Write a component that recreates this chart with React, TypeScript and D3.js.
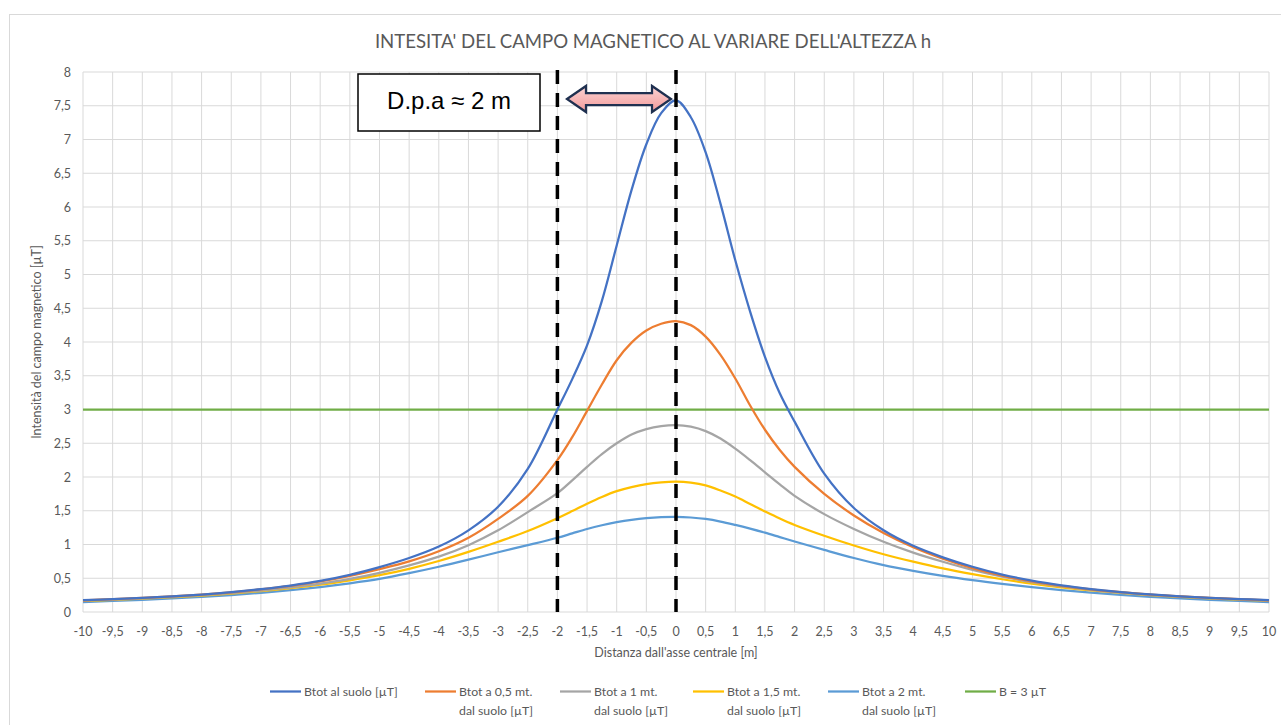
import React from "react";
import * as d3 from "d3";

// ---------- DATA ----------
const X = [-10, -9.5, -9, -8.5, -8, -7.5, -7, -6.5, -6, -5.5, -5, -4.5, -4, -3.5, -3, -2.5,
  -2, -1.75, -1.5, -1.25, -1, -0.75, -0.5, -0.25, 0, 0.25, 0.5, 0.75, 1, 1.25, 1.5, 1.75, 2,
  2.5, 3, 3.5, 4, 4.5, 5, 5.5, 6, 6.5, 7, 7.5, 8, 8.5, 9, 9.5, 10];

const bSuolo = [0.176, 0.191, 0.209, 0.231, 0.259, 0.294, 0.338, 0.392, 0.46, 0.55, 0.665, 0.8, 0.97, 1.21, 1.56, 2.12,
  3.0, 3.45, 3.95, 4.61, 5.43, 6.25, 6.93, 7.39, 7.58, 7.33, 6.81, 6.05, 5.21, 4.45, 3.78, 3.24, 2.82,
  2.05, 1.54, 1.21, 0.98, 0.81, 0.67, 0.555, 0.465, 0.395, 0.34, 0.295, 0.26, 0.232, 0.21, 0.192, 0.177];

const b05 = [0.174, 0.19, 0.208, 0.23, 0.258, 0.292, 0.334, 0.386, 0.452, 0.535, 0.635, 0.75, 0.9, 1.1, 1.38, 1.72,
  2.25, 2.59, 2.98, 3.37, 3.73, 3.99, 4.17, 4.27, 4.31, 4.25, 4.08, 3.81, 3.46, 3.06, 2.7, 2.4, 2.15,
  1.75, 1.43, 1.17, 0.96, 0.79, 0.65, 0.54, 0.455, 0.388, 0.335, 0.293, 0.259, 0.231, 0.209, 0.19, 0.174];

const b1 = [0.169, 0.185, 0.203, 0.225, 0.25, 0.28, 0.318, 0.364, 0.42, 0.49, 0.58, 0.69, 0.82, 0.99, 1.21, 1.48,
  1.76, 1.95, 2.15, 2.34, 2.5, 2.63, 2.71, 2.755, 2.77, 2.745, 2.68, 2.57, 2.42, 2.25, 2.07, 1.89, 1.72,
  1.45, 1.23, 1.04, 0.88, 0.745, 0.625, 0.525, 0.443, 0.379, 0.328, 0.287, 0.254, 0.228, 0.205, 0.186, 0.17];

const b15 = [0.165, 0.18, 0.198, 0.219, 0.244, 0.274, 0.31, 0.353, 0.405, 0.47, 0.545, 0.64, 0.755, 0.89, 1.04, 1.2,
  1.39, 1.495, 1.605, 1.705, 1.79, 1.85, 1.895, 1.92, 1.93, 1.915, 1.875, 1.8, 1.71, 1.6, 1.49, 1.385, 1.29,
  1.13, 0.985, 0.855, 0.745, 0.645, 0.56, 0.485, 0.42, 0.365, 0.32, 0.282, 0.25, 0.224, 0.202, 0.184, 0.167];

const b2 = [0.148, 0.163, 0.18, 0.2, 0.223, 0.251, 0.284, 0.323, 0.37, 0.425, 0.49, 0.575, 0.67, 0.775, 0.885, 0.99,
  1.1, 1.165, 1.23, 1.285, 1.33, 1.365, 1.39, 1.405, 1.41, 1.4, 1.378, 1.34, 1.29, 1.235, 1.175, 1.11, 1.045,
  0.92, 0.8, 0.695, 0.61, 0.535, 0.472, 0.418, 0.37, 0.325, 0.286, 0.252, 0.224, 0.2, 0.18, 0.163, 0.148];

const LIMIT = 3;
const DPA_LINES = [-2, 0];

const SERIES_NAMES = [
  ["Btot al suolo [µT]"],
  ["Btot a 0,5 mt.", "dal suolo [µT]"],
  ["Btot a 1 mt.", "dal suolo [µT]"],
  ["Btot a 1,5 mt.", "dal suolo [µT]"],
  ["Btot a 2 mt.", "dal suolo [µT]"],
  ["B = 3 µT"],
];
const SERIES_VALUES = [bSuolo, b05, b1, b15, b2];
const COLORS = ["#4472c4", "#ed7d31", "#a5a5a5", "#ffc000", "#5b9bd5", "#70ad47"];

const X_TICKS = d3.range(-10, 10.001, 0.5).map((v) => Math.round(v * 10) / 10);
const Y_TICKS = d3.range(0, 8.001, 0.5).map((v) => Math.round(v * 10) / 10);

const TITLE = "INTESITA' DEL CAMPO MAGNETICO AL VARIARE DELL'ALTEZZA h";
const X_TITLE = "Distanza dall'asse centrale [m]";
const Y_TITLE = "Intensità del campo magnetico [µT]";
const NOTE = "D.p.a ≈ 2 m";

// ---------- LAYOUT ----------
const W = 1281;
const H = 725;
const plot = { left: 83, right: 1269, top: 72, bottom: 612 };
const FONT = "Lato, 'Open Sans', sans-serif";
const TXT = "#595959";
const GRID = "#d9d9d9";

const fmt = (v: number) => String(v).replace(".", ",");

export default function App() {
  const x = d3.scaleLinear().domain([-10, 10]).range([plot.left, plot.right]);
  const y = d3.scaleLinear().domain([0, 8]).range([plot.bottom, plot.top]);

  const line = d3
    .line<number>()
    .x((_, i) => x(X[i]))
    .y((d) => y(d))
    .curve(d3.curveCatmullRom.alpha(0.5));

  const legendLineX = [270, 425, 560, 693, 828, 965];
  const legendY = 692;

  // arrow geometry
  const ay = 99;
  const ax0 = 567;
  const ax1 = 671;
  const head = 19;
  const hh = 13;
  const sh = 6;
  const arrowPath = [
    [ax0, ay],
    [ax0 + head, ay - hh],
    [ax0 + head, ay - sh],
    [ax1 - head, ay - sh],
    [ax1 - head, ay - hh],
    [ax1, ay],
    [ax1 - head, ay + hh],
    [ax1 - head, ay + sh],
    [ax0 + head, ay + sh],
    [ax0 + head, ay + hh],
  ]
    .map((p, i) => (i === 0 ? "M" : "L") + p[0] + "," + p[1])
    .join("") + "Z";

  return (
    <svg
      width={W}
      height={H}
      style={{ position: "absolute", left: 0, top: 0, background: "#fff" }}
      fontFamily={FONT}
    >
      <defs>
        <linearGradient id="pink" x1="0" y1="0" x2="0" y2="1">
          <stop offset="0" stopColor="#fbd3d3" />
          <stop offset="1" stopColor="#f29a9a" />
        </linearGradient>
      </defs>
      <rect x={0} y={0} width={W} height={H} fill="#fff" />
      <rect x={9.5} y={14.5} width={1300} height={760} fill="#fff" stroke={GRID} strokeWidth={1} />

      <text x={653} y={48} textAnchor="middle" fontSize={18.6} fill={TXT}>
        {TITLE}
      </text>

      {/* grid */}
      {X_TICKS.map((t) => (
        <line key={"gx" + t} x1={x(t)} x2={x(t)} y1={plot.top} y2={plot.bottom} stroke={GRID} strokeWidth={1} />
      ))}
      {Y_TICKS.map((t) => (
        <line key={"gy" + t} x1={plot.left} x2={plot.right} y1={y(t)} y2={y(t)} stroke={GRID} strokeWidth={1} />
      ))}

      {/* y tick labels */}
      {Y_TICKS.map((t) => (
        <text key={"ty" + t} x={71} y={y(t) + 4.5} textAnchor="end" fontSize={12.5} fill={TXT}>
          {fmt(t)}
        </text>
      ))}
      {/* x tick labels */}
      {X_TICKS.map((t) => (
        <text key={"tx" + t} x={x(t)} y={636} textAnchor="middle" fontSize={12.5} fill={TXT}>
          {fmt(t)}
        </text>
      ))}

      <text x={676} y={657} textAnchor="middle" fontSize={12.5} fill={TXT}>
        {X_TITLE}
      </text>
      <text
        transform={`translate(41,${(plot.top + plot.bottom) / 2}) rotate(-90)`}
        textAnchor="middle"
        fontSize={12.5}
        fill={TXT}
      >
        {Y_TITLE}
      </text>

      {/* limit line */}
      <line x1={x(-10)} x2={x(10)} y1={y(LIMIT)} y2={y(LIMIT)} stroke={COLORS[5]} strokeWidth={2.25} />

      {/* series (drawn back to front) */}
      {SERIES_VALUES.map((vals, i) => i)
        .reverse()
        .map((i) => (
          <path
            key={"s" + i}
            d={line(SERIES_VALUES[i]) || ""}
            fill="none"
            stroke={COLORS[i]}
            strokeWidth={2.25}
            strokeLinejoin="round"
          />
        ))}

      {/* dashed D.p.a. lines */}
      {DPA_LINES.map((v) => (
        <line
          key={"d" + v}
          x1={x(v)}
          x2={x(v)}
          y1={70}
          y2={plot.bottom}
          stroke="#000"
          strokeWidth={3.5}
          strokeDasharray="14 9"
        />
      ))}

      {/* arrow */}
      <path d={arrowPath} fill="url(#pink)" stroke="#1f3050" strokeWidth={2.25} strokeLinejoin="miter" />

      {/* note box */}
      <rect x={358} y={74} width={182} height={57} fill="#fff" stroke="#000" strokeWidth={1.5} />
      <text x={449} y={109} textAnchor="middle" fontSize={24} fill="#000" fontFamily="'Liberation Sans', Arial, sans-serif">
        {NOTE}
      </text>

      {/* legend */}
      {SERIES_NAMES.map((lines, i) => (
        <g key={"lg" + i}>
          <line
            x1={legendLineX[i]}
            x2={legendLineX[i] + 31}
            y1={legendY - 0.5}
            y2={legendY - 0.5}
            stroke={COLORS[i]}
            strokeWidth={2.25}
          />
          {lines.map((s, j) => (
            <text key={j} x={legendLineX[i] + 34} y={legendY + 4 + j * 19} fontSize={12.3} fill={TXT}>
              {s}
            </text>
          ))}
        </g>
      ))}
    </svg>
  );
}
